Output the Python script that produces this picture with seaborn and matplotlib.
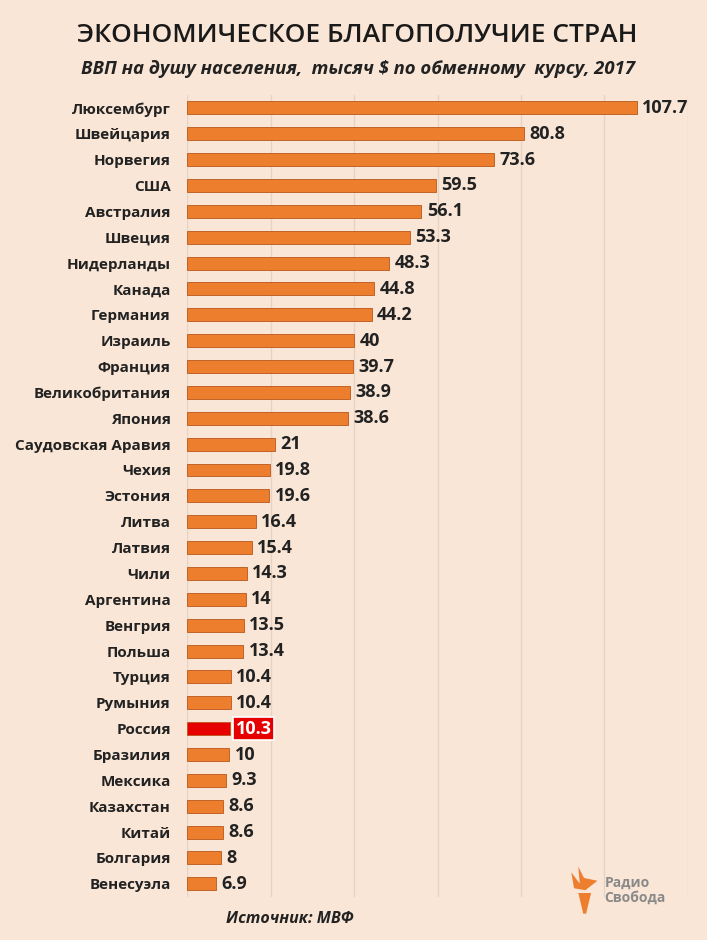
import numpy as np
import pandas as pd
import seaborn as sns
import matplotlib.pyplot as plt
from matplotlib.patches import Polygon

countries = [
    "Люксембург", "Швейцария", "Норвегия", "США", "Австралия", "Швеция",
    "Нидерланды", "Канада", "Германия", "Израиль", "Франция",
    "Великобритания", "Япония", "Саудовская Аравия", "Чехия", "Эстония",
    "Литва", "Латвия", "Чили", "Аргентина", "Венгрия", "Польша", "Турция",
    "Румыния", "Россия", "Бразилия", "Мексика", "Казахстан", "Китай",
    "Болгария", "Венесуэла",
]
gdp = [
    107.7, 80.8, 73.6, 59.5, 56.1, 53.3, 48.3, 44.8, 44.2, 40, 39.7,
    38.9, 38.6, 21, 19.8, 19.6, 16.4, 15.4, 14.3, 14, 13.5, 13.4, 10.4,
    10.4, 10.3, 10, 9.3, 8.6, 8.6, 8, 6.9,
]
labels = [
    "107.7", "80.8", "73.6", "59.5", "56.1", "53.3", "48.3", "44.8", "44.2",
    "40", "39.7", "38.9", "38.6", "21", "19.8", "19.6", "16.4", "15.4",
    "14.3", "14", "13.5", "13.4", "10.4", "10.4", "10.3", "10", "9.3",
    "8.6", "8.6", "8", "6.9",
]
highlight = "Россия"

BG = "#F9E6D6"
ORANGE = "#EC7E2E"
EDGE = "#B9571A"
RED = "#E60000"

df = pd.DataFrame({"country": countries, "gdp": gdp, "label": labels})
df["kind"] = np.where(df["country"] == highlight, "hl", "base")

sns.set_theme(style="white")
plt.rcParams["font.family"] = ["Open Sans", "DejaVu Sans"]

fig = plt.figure(figsize=(7.07, 9.40), dpi=100, facecolor=BG)
ax = fig.add_axes([0.265, 0.046, 0.708, 0.853])
ax.set_facecolor(BG)

sns.barplot(
    data=df, x="gdp", y="country", hue="kind",
    palette={"base": ORANGE, "hl": RED}, saturation=1,
    width=0.5, dodge=False, legend=False, ax=ax,
    edgecolor=EDGE, linewidth=0.6,
)

ax.set_xlim(0, 120)
ax.set_xticks(range(0, 121, 20))
ax.set_xticklabels([])
ax.tick_params(axis="x", length=0)
ax.tick_params(axis="y", length=0, pad=12)
ax.grid(axis="x", color="#E6D3C3", linewidth=1)
ax.set_axisbelow(True)
ax.set_xlabel("")
ax.set_ylabel("")
for s in ax.spines.values():
    s.set_visible(False)

for t in ax.get_yticklabels():
    t.set_fontweight("bold")
    t.set_fontsize(11)
    t.set_color("#222222")

for i, row in df.iterrows():
    if row["country"] == highlight:
        ax.text(row["gdp"] + 1.3, i, row["label"], va="center", ha="left",
                fontsize=13, fontweight="bold", color="white",
                bbox=dict(boxstyle="square,pad=0.15", fc=RED, ec="white", lw=1.2))
    else:
        ax.text(row["gdp"] + 1.3, i, row["label"], va="center", ha="left",
                fontsize=13, fontweight="bold", color="#222222")

fig.text(0.506, 0.962, "ЭКОНОМИЧЕСКОЕ БЛАГОПОЛУЧИЕ СТРАН", ha="center",
         va="center", fontsize=19, color="#1a1a1a", fontweight="semibold")
fig.text(0.506, 0.927, "ВВП на душу населения,  тысяч $ по обменному  курсу, 2017",
         ha="center", va="center", fontsize=13.3, fontweight="bold",
         fontstyle="italic", color="#222222")
fig.text(0.41, 0.022, "Источник: МВФ", ha="center", va="center", fontsize=11.5,
         fontweight="bold", fontstyle="italic", color="#222222")

# logo
fig.text(0.855, 0.053, "Радио\nСвобода", ha="left", va="center", fontsize=10,
         fontweight="bold", color="#8a8a8a", linespacing=1.1)
flame = Polygon([[0.808, 0.072], [0.820, 0.060], [0.818, 0.078],
                 [0.826, 0.066], [0.845, 0.063], [0.828, 0.053],
                 [0.812, 0.055]], closed=True, transform=fig.transFigure,
                fc=ORANGE, ec="none")
torch = Polygon([[0.818, 0.050], [0.836, 0.050], [0.829, 0.028],
                 [0.825, 0.028]], closed=True, transform=fig.transFigure,
                fc=ORANGE, ec="none")
fig.patches.extend([flame, torch])

plt.savefig("out.png", dpi=100, facecolor=BG)
plt.close()
